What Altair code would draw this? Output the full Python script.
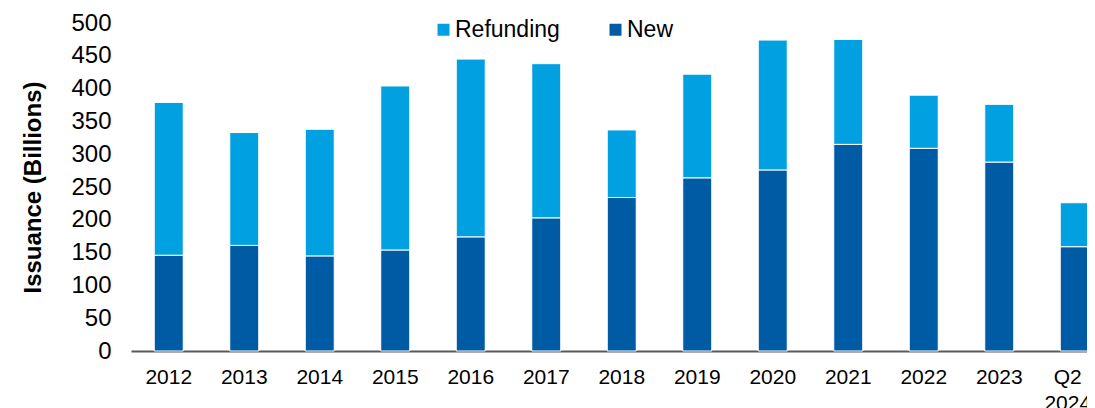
import altair as alt
import pandas as pd

periods = ["2012", "2013", "2014", "2015", "2016", "2017", "2018",
           "2019", "2020", "2021", "2022", "2023", "Q2 2024"]
new_vals = [146, 161, 145, 154, 174, 203, 234, 264, 276, 315, 309, 288, 159]
refunding_vals = [233, 172, 193, 250, 271, 235, 103, 158, 198, 160, 81, 88, 67]
series = ["Refunding", "New"]
colors = ["#00A0E1", "#005BA5"]
y_ticks = [0, 50, 100, 150, 200, 250, 300, 350, 400, 450, 500]

rows = []
for p, n, r in zip(periods, new_vals, refunding_vals):
    rows.append({"period": p, "type": "New", "value": n, "ord": 0})
    rows.append({"period": p, "type": "Refunding", "value": r, "ord": 1})
df = pd.DataFrame(rows)

FONT = "Liberation Sans"
step = 75.5

chart = alt.Chart(df).mark_bar(stroke="white", strokeWidth=1).encode(
    x=alt.X(
        "period:N",
        sort=periods,
        scale=alt.Scale(range=[0, step * len(periods)], paddingInner=0.616,
                        paddingOuter=0.308, round=False),
        axis=alt.Axis(
            title=None, labelAngle=0, labelFontSize=21, labelPadding=15,
            ticks=False, domainColor="#595959", domainWidth=2,
            labelExpr="datum.value == 'Q2 2024' ? ['Q2', '2024'] : datum.value",
            labelOffset=alt.condition("datum.value == 'Q2 2024'", alt.value(-7), alt.value(0)),
            labelLineHeight=26, labelColor="black", labelFont=FONT,
        ),
    ),
    y=alt.Y(
        "value:Q",
        stack="zero",
        scale=alt.Scale(domain=[0, 500], nice=False),
        axis=alt.Axis(
            values=y_ticks, domain=False, ticks=False, grid=False,
            labelFontSize=24, labelPadding=20, labelColor="black", labelFont=FONT,
            title="Issuance (Billions)", titleFontSize=24, titleFontWeight="bold",
            titleFont=FONT, titleColor="black", titleAngle=270,
            titleX=-98, titleY=164, titleAlign="center", titleBaseline="middle",
        ),
    ),
    color=alt.Color(
        "type:N",
        scale=alt.Scale(domain=series, range=colors),
        legend=alt.Legend(
            orient="none", legendX=301, legendY=-5, direction="horizontal",
            title=None, symbolType="square", symbolSize=144, symbolStrokeWidth=0,
            labelFontSize=23, labelOffset=0, columnPadding=44, padding=0,
            labelFont=FONT, labelColor="black",
        ),
    ),
    order=alt.Order("ord:Q"),
).properties(
    width=956,
    height=328,
    autosize=alt.AutoSizeParams(type="none"),
    padding={"left": 123, "top": 15, "right": 0, "bottom": 57},
).configure_view(stroke=None)

chart.save("out.html", embed_options={"renderer": "svg", "actions": False})
